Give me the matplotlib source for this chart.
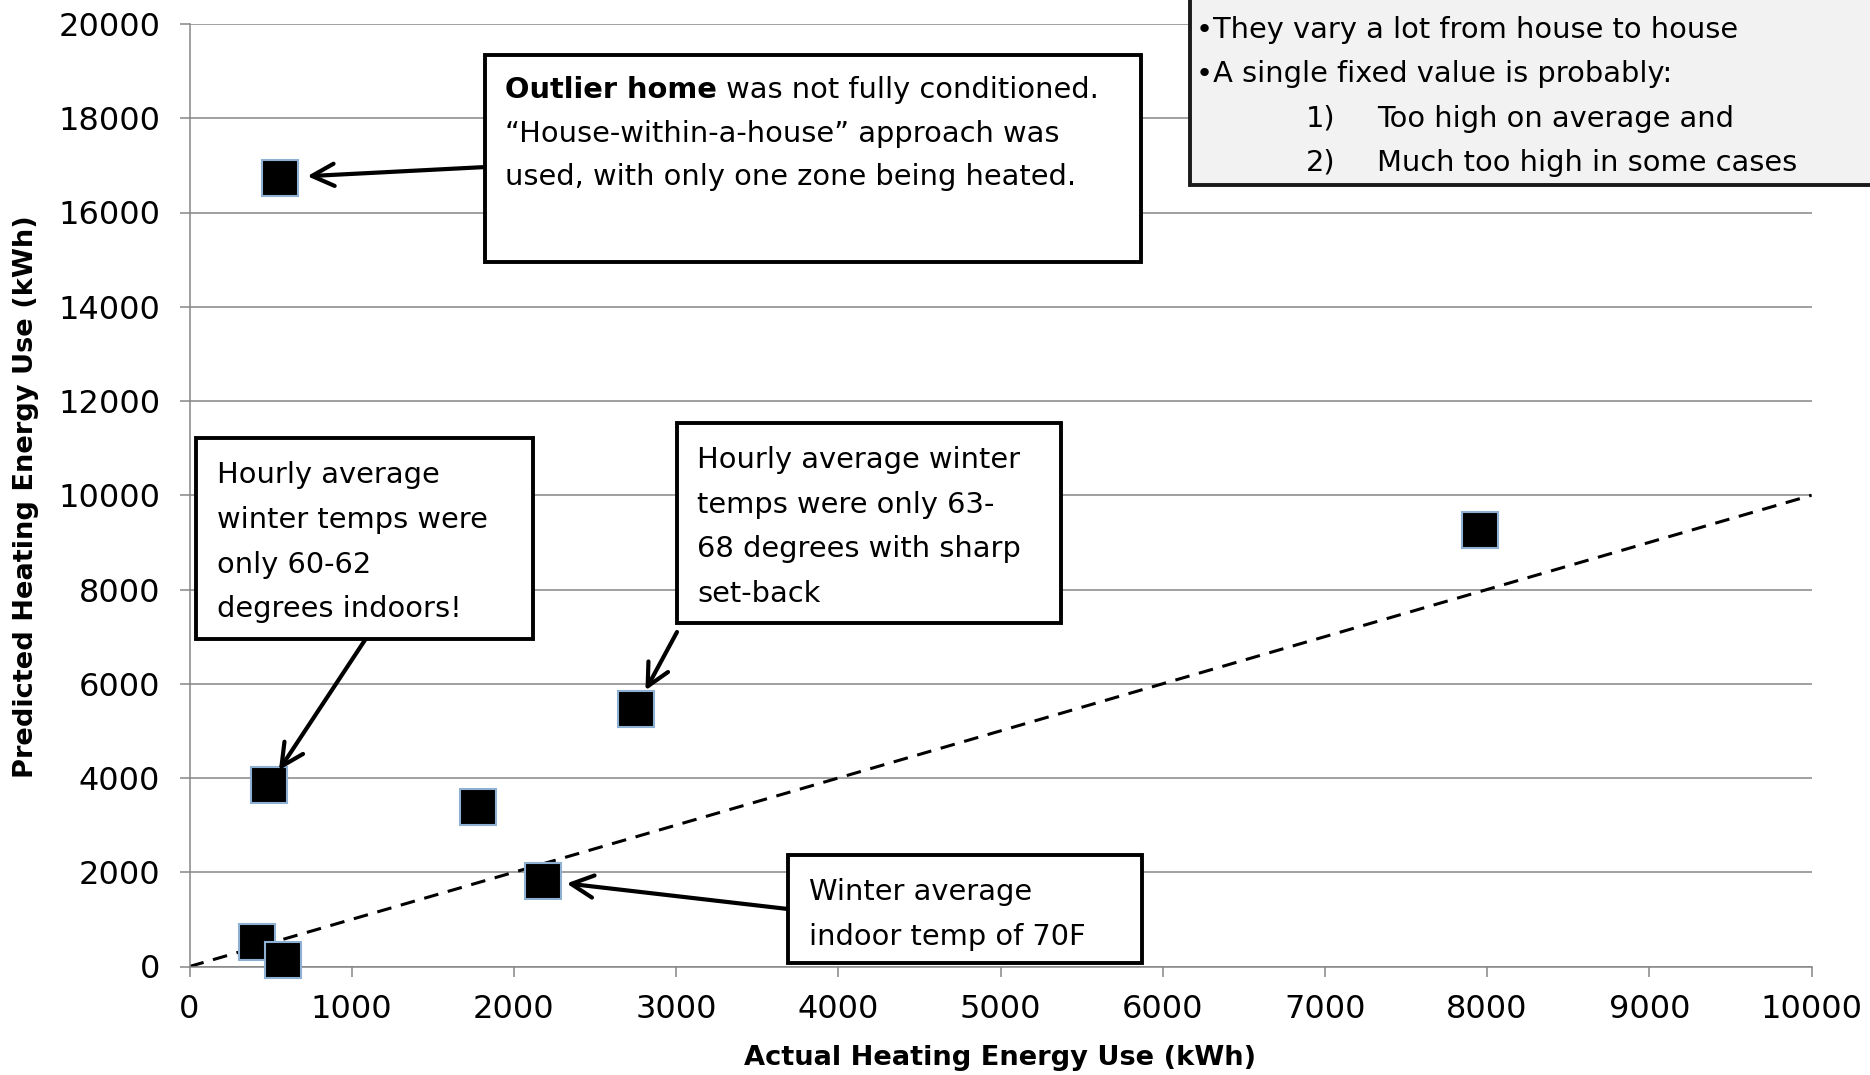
import numpy as np
import matplotlib.pyplot as plt
from matplotlib.patches import Rectangle

plt.rcParams['font.family'] = ['DejaVu Sans']

# measured vs. modelled heating energy for each home (kWh)
actual = [555, 490, 1780, 2750, 2180, 415, 575, 7955]
predicted = [16740, 3845, 3390, 5470, 1820, 530, 140, 9260]

# 1:1 reference line
line_x = [0, 10000]
line_y = [0, 10000]

x_ticks = np.arange(0, 10001, 1000)
y_ticks = np.arange(0, 20001, 2000)

W, H = 1870, 1075
fig = plt.figure(figsize=(W / 100, H / 100), dpi=100)


def fpos(x, y):
    # pixel position (from top-left) -> figure fraction
    return x / W, 1 - y / H


ax = fig.add_axes([189.5 / W, 1 - 966.5 / H, 1622 / W, 942.5 / H])

ax.plot(line_x, line_y, color='black', lw=2.2, linestyle=(0, (4.8, 3.2)), zorder=2)
ax.plot(actual, predicted, linestyle='none', marker='s', markersize=25.5,
        markerfacecolor='black', markeredgecolor='#8eb0d2', markeredgewidth=1.5,
        zorder=3, clip_on=False)

ax.set_xlim(0, 10000)
ax.set_ylim(0, 20000)
ax.set_xticks(x_ticks)
ax.set_yticks(y_ticks)
ax.grid(axis='y', color='#868686', lw=1.1)
ax.set_axisbelow(True)
for s in ['top', 'right']:
    ax.spines[s].set_visible(False)
for s in ['left', 'bottom']:
    ax.spines[s].set_color('#868686')
    ax.spines[s].set_linewidth(1.1)
ax.tick_params(axis='both', colors='#868686', labelcolor='black', labelsize=23,
               length=7, width=1.1)
ax.tick_params(axis='y', pad=14)
ax.tick_params(axis='x', pad=13)

fig.text(*fpos(1000, 1058), 'Actual Heating Energy Use (kWh)', ha='center', va='center',
         fontsize=19.6, fontweight='bold')
fig.text(*fpos(26, 497), 'Predicted Heating Energy Use (kWh)', ha='center', va='center',
         rotation=90, fontsize=19.6, fontweight='bold')


def box(x0, y0, x1, y1, fc='white', ec='black'):
    r = Rectangle(fpos(x0, y1), (x1 - x0) / W, (y1 - y0) / H, transform=fig.transFigure,
                  facecolor=fc, edgecolor=ec, lw=2.8, zorder=5, clip_on=False)
    fig.add_artist(r)


def lines(x, baselines, texts, size=20.8):
    for y, t in zip(baselines, texts):
        fig.text(*fpos(x, y), t, va='baseline', ha='left', fontsize=size, zorder=6)


def arrow(i, start, shrink):
    ax.annotate('', xy=(actual[i], predicted[i]), xycoords='data',
                xytext=fpos(*start), textcoords='figure fraction',
                arrowprops=dict(arrowstyle='->,head_length=0.4,head_width=0.2',
                                mutation_scale=40, lw=3, color='black',
                                shrinkA=0, shrinkB=shrink),
                annotation_clip=False, zorder=4)


# outlier home
arrow(0, (486, 167), 20)
box(485, 55, 1141, 262)
t = fig.text(*fpos(505, 98), 'Outlier home', va='baseline', ha='left',
             fontsize=20.8, fontweight='bold', zorder=6)
fig.canvas.draw()
bb = t.get_window_extent()
fig.text(bb.x1 / W, 1 - 98 / H, ' was not fully conditioned.', va='baseline', ha='left',
         fontsize=20.8, zorder=6)
lines(505, [142, 185], ['\u201cHouse-within-a-house\u201d approach was',
                        'used, with only one zone being heated.'])

# cold house
arrow(1, (365, 640), 13)
box(196, 438, 533, 639)
lines(217, [483, 528, 573, 617], ['Hourly average', 'winter temps were',
                                  'only 60-62', 'degrees indoors!'])

# set-back house
arrow(3, (677, 632), 15)
box(677, 423, 1061, 623)
lines(697, [468, 513, 557, 602], ['Hourly average winter', 'temps were only 63-',
                                  '68 degrees with sharp', 'set-back'])

# 70F house
arrow(4, (788, 909), 17)
box(788, 855, 1142, 963)
lines(809, [900, 945], ['Winter average', 'indoor temp of 70F'])

# summary box, top right
box(1190, -10, 1880, 185, fc='#f2f2f2', ec='#1a1a1a')
lines(1196, [38, 82], ['\u2022They vary a lot from house to house',
                       '\u2022A single fixed value is probably:'])
lines(1306, [127, 171], ['1)', '2)'])
lines(1377, [127, 171], ['Too high on average and', 'Much too high in some cases'])

fig.savefig('out.png', dpi=100)
